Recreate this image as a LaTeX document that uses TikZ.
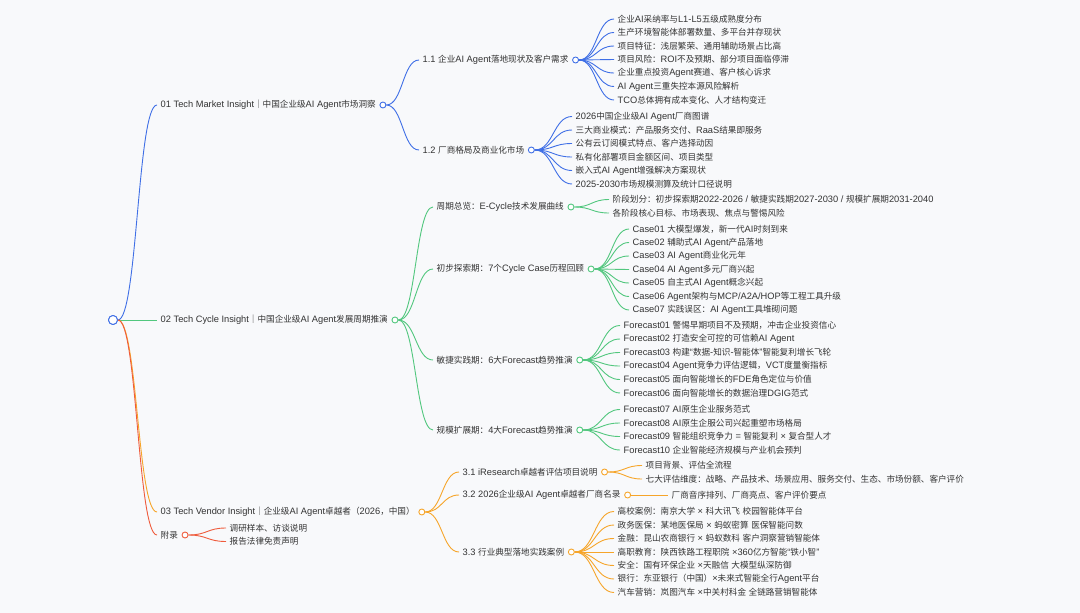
\documentclass[tikz,border=0pt]{standalone}
\usepackage{fontspec}
\setmainfont{Liberation Sans}[Scale=1.08]
\newfontfamily\cjkfont{Noto Sans CJK SC}
% switch to the CJK face for Han glyphs and full-width punctuation
\newcount\cjkc
\cjkc="3000 \loop \XeTeXcharclass\cjkc=7 \advance\cjkc 1 \ifnum\cjkc<"A000 \repeat
\cjkc="FF00 \loop \XeTeXcharclass\cjkc=7 \advance\cjkc 1 \ifnum\cjkc<"FFF0 \repeat
\XeTeXinterchartokenstate=1
\XeTeXinterchartoks 0 7 = {\cjkfont}
\XeTeXinterchartoks 4095 7 = {\cjkfont}
\XeTeXinterchartoks 7 0 = {\rmfamily}
\XeTeXinterchartoks 7 4095 = {\rmfamily}
\usetikzlibrary{calc, positioning}
\definecolor{mblue}{HTML}{3F6FE6}
\definecolor{mgreen}{HTML}{52C77E}
\definecolor{morange}{HTML}{F6A52A}
\definecolor{mred}{HTML}{EF5B3C}
\definecolor{mtext}{HTML}{333333}
\definecolor{mbg}{HTML}{F8F9FB}

\tikzset{
  topic/.style={anchor=west, inner xsep=3.5pt, inner ysep=1pt, text=mtext, font=\fontsize{8.6}{10}\selectfont},
  knob/.style={circle, draw=#1, fill=white, line width=0.9pt, minimum size=6pt, inner sep=0pt},
  link/.style={line width=0.9pt, to path={.. controls ($(\tikztostart)!0.5!(\tikztostart-|\tikztotarget)$) and ($(\tikztotarget)!0.5!(\tikztotarget-|\tikztostart)$) .. (\tikztotarget)}},
}

\begin{document}
\begin{tikzpicture}[x=1pt, y=-1pt]
  % canvas
  \fill[mbg] (0,0) rectangle (1080,613);
  \useasboundingbox (0,0) rectangle (1080,613);

  % root
  \node[knob=mblue, minimum size=9pt] (root) at (113,320) {};

  % 01 market insight
  \node[topic] (t01) at (157,105) {01 Tech Market Insight｜中国企业级AI Agent市场洞察};
  \node[knob=mblue, right=0pt of t01] (c01) {};
  \draw[link, mblue] (root.east) to (t01.west);

  \node[topic] (t11) at (419,60) {1.1 企业AI Agent落地现状及客户需求};
  \node[knob=mblue, right=0pt of t11] (c11) {};
  \node[topic] (t12) at (419,150) {1.2 厂商格局及商业化市场};
  \node[knob=mblue, right=0pt of t12] (c12) {};
  \draw[link, mblue] (c01.east) to (t11.west);
  \draw[link, mblue] (c01.east) to (t12.west);

  \foreach \txt [count=\i] in {{企业AI采纳率与L1-L5五级成熟度分布},{生产环境智能体部署数量、多平台并存现状},
      {项目特征：浅层繁荣、通用辅助场景占比高},{项目风险：ROI不及预期、部分项目面临停滞},
      {企业重点投资Agent赛道、客户核心诉求},{AI Agent三重失控本源风险解析},{TCO总体拥有成本变化、人才结构变迁}}{
    \node[topic] (p11n\i) at (614,{19+13.5*(\i-1)}) {\txt};
    \draw[link, mblue] (c11.east) to (p11n\i.west);
  }
  \foreach \txt [count=\i] in {{2026中国企业级AI Agent厂商图谱},{三大商业模式：产品服务交付、RaaS结果即服务},
      {公有云订阅模式特点、客户选择动因},{私有化部署项目金额区间、项目类型},
      {嵌入式AI Agent增强解决方案现状},{2025-2030市场规模测算及统计口径说明}}{
    \node[topic] (p12n\i) at (572,{116.5+13.5*(\i-1)}) {\txt};
    \draw[link, mblue] (c12.east) to (p12n\i.west);
  }

  % 02 cycle insight
  \node[topic] (t02) at (157,320) {02 Tech Cycle Insight｜中国企业级AI Agent发展周期推演};
  \node[knob=mgreen, right=0pt of t02] (c02) {};
  \draw[link, mgreen] (root.east) to (t02.west);

  \node[topic] (t21) at (433,207) {周期总览：E-Cycle技术发展曲线};
  \node[knob=mgreen, right=0pt of t21] (c21) {};
  \node[topic] (t22) at (433,269) {初步探索期：7个Cycle Case历程回顾};
  \node[knob=mgreen, right=0pt of t22] (c22) {};
  \node[topic] (t23) at (433,360) {敏捷实践期：6大Forecast趋势推演};
  \node[knob=mgreen, right=0pt of t23] (c23) {};
  \node[topic] (t24) at (433,430) {规模扩展期：4大Forecast趋势推演};
  \node[knob=mgreen, right=0pt of t24] (c24) {};
  \foreach \n in {t21,t22,t23,t24}
    \draw[link, mgreen] (c02.east) to (\n.west);

  \foreach \txt [count=\i] in {{阶段划分：初步探索期2022-2026 / 敏捷实践期2027-2030 / 规模扩展期2031-2040},
      {各阶段核心目标、市场表现、焦点与警惕风险}}{
    \node[topic] (p21n\i) at (609,{199.5+13.5*(\i-1)}) {\txt};
    \draw[link, mgreen] (c21.east) to (p21n\i.west);
  }
  \foreach \txt [count=\i] in {{Case01 大模型爆发，新一代AI时刻到来},{Case02 辅助式AI Agent产品落地},
      {Case03 AI Agent商业化元年},{Case04 AI Agent多元厂商兴起},{Case05 自主式AI Agent概念兴起},
      {Case06 Agent架构与MCP/A2A/HOP等工程工具升级},{Case07 实践误区：AI Agent工具堆砌问题}}{
    \node[topic] (p22n\i) at (629,{229+13.5*(\i-1)}) {\txt};
    \draw[link, mgreen] (c22.east) to (p22n\i.west);
  }
  \foreach \txt [count=\i] in {{Forecast01 警惕早期项目不及预期，冲击企业投资信心},{Forecast02 打造安全可控的可信赖AI Agent},
      {Forecast03 构建“数据-知识-智能体”智能复利增长飞轮},{Forecast04 Agent竞争力评估逻辑，VCT度量衡指标},
      {Forecast05 面向智能增长的FDE角色定位与价值},{Forecast06 面向智能增长的数据治理DGIG范式}}{
    \node[topic] (p23n\i) at (620,{325.5+13.5*(\i-1)}) {\txt};
    \draw[link, mgreen] (c23.east) to (p23n\i.west);
  }
  \foreach \txt [count=\i] in {{Forecast07 AI原生企业服务范式},{Forecast08 AI原生企服公司兴起重塑市场格局},
      {Forecast09 智能组织竞争力 = 智能复利 × 复合型人才},{Forecast10 企业智能经济规模与产业机会预判}}{
    \node[topic] (p24n\i) at (620,{409.5+13.5*(\i-1)}) {\txt};
    \draw[link, mgreen] (c24.east) to (p24n\i.west);
  }

  % 03 vendor insight
  \node[topic] (t03) at (157,512) {03 Tech Vendor Insight｜企业级AI Agent卓越者（2026，中国）};
  \node[knob=morange, right=0pt of t03] (c03) {};
  \draw[link, morange] (root.east) to (t03.west);

  \node[topic] (t31) at (459,472) {3.1 iResearch卓越者评估项目说明};
  \node[knob=morange, right=0pt of t31] (c31) {};
  \node[topic] (t32) at (459,495) {3.2 2026企业级AI Agent卓越者厂商名录};
  \node[knob=morange, right=0pt of t32] (c32) {};
  \node[topic] (t33) at (459,552) {3.3 行业典型落地实践案例};
  \node[knob=morange, right=0pt of t33] (c33) {};
  \foreach \n in {t31,t32,t33}
    \draw[link, morange] (c03.east) to (\n.west);

  \foreach \txt [count=\i] in {{项目背景、评估全流程},
      {七大评估维度：战略、产品技术、场景应用、服务交付、生态、市场份额、客户评价}}{
    \node[topic] (p31n\i) at (642,{465.5+13.5*(\i-1)}) {\txt};
    \draw[link, morange] (c31.east) to (p31n\i.west);
  }
  \node[topic] (p32n1) at (668,495) {厂商音序排列、厂商亮点、客户评价要点};
  \draw[link, morange] (c32.east) to (p32n1.west);
  \foreach \txt [count=\i] in {{高校案例：南京大学 × 科大讯飞 校园智能体平台},{政务医保：某地医保局 × 蚂蚁密算 医保智能问数},
      {金融：昆山农商银行 × 蚂蚁数科 客户洞察营销智能体},{高职教育：陕西铁路工程职院 ×360亿方智能“铁小智”},
      {安全：国有环保企业 ×天融信 大模型纵深防御},{银行：东亚银行（中国）×未来式智能全行Agent平台},
      {汽车营销：岚图汽车 ×中关村科金 全链路营销智能体}}{
    \node[topic] (p33n\i) at (614,{511.5+13.5*(\i-1)}) {\txt};
    \draw[link, morange] (c33.east) to (p33n\i.west);
  }

  % appendix
  \node[topic] (t04) at (157,535) {附录};
  \node[knob=mred, right=0pt of t04] (c04) {};
  \draw[link, mred] (root.east) to (t04.west);
  \foreach \txt [count=\i] in {{调研样本、访谈说明},{报告法律免责声明}}{
    \node[topic] (p04n\i) at (226,{528+13.5*(\i-1)}) {\txt};
    \draw[link, mred] (c04.east) to (p04n\i.west);
  }

  % root on top
  \node[knob=mblue, minimum size=9pt] at (root) {};
\end{tikzpicture}
\end{document}
